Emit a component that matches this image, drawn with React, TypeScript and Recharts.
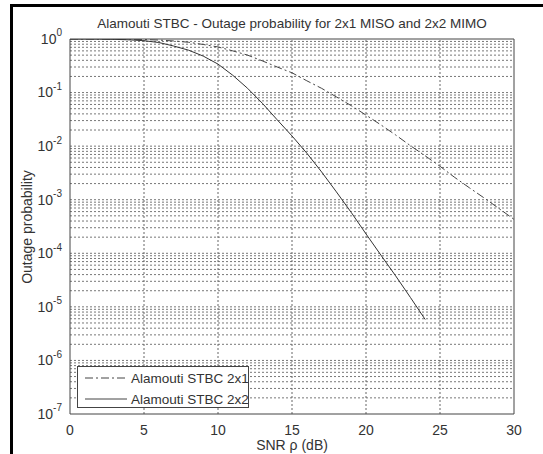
import { LineChart, Line, XAxis, YAxis, ReferenceLine, Legend } from "recharts";

const snrDb = [0, 1, 2, 3, 4, 5, 6, 7, 8, 9, 10, 11, 12, 13, 14, 15, 16, 17, 18, 19, 20, 21, 22, 23, 24, 25, 26, 27, 28, 29, 30];

// Alamouti 2x1 MISO (dash-dot)
const miso2x1 = [
  0.998, 0.997, 0.995, 0.992, 0.988, 0.978, 0.955, 0.92, 0.87, 0.79, 0.71, 0.6, 0.5, 0.39, 0.3, 0.234,
  0.166, 0.12, 0.083, 0.057, 0.038, 0.025, 0.0162, 0.0102, 0.0066, 0.0042, 0.0026, 0.00166, 0.00107,
  0.00068, 0.00043,
];

// Alamouti 2x2 MIMO (solid), stops at 24 dB
const mimo2x2 = [
  0.999, 0.998, 0.995, 0.985, 0.965, 0.93, 0.86, 0.74, 0.62, 0.48, 0.34, 0.21, 0.12, 0.063, 0.031, 0.0155,
  0.0074, 0.0033, 0.0014, 0.00058, 0.00023, 0.000093, 0.000038, 0.000015, 0.0000058,
];

const xTicks = [0, 5, 10, 15, 20, 25, 30];
const yTicks = [1e-7, 1e-6, 1e-5, 1e-4, 1e-3, 1e-2, 1e-1, 1];
const minorSteps = [1, 2, 3, 4, 5, 6, 7, 8, 9];

const data = snrDb.map((snr, i) => ({
  snr,
  miso: miso2x1[i],
  mimo: i < mimo2x2.length ? mimo2x2[i] : undefined,
}));

// dotted log grid: every m*10^k inside the box (edges are drawn separately)
const hGrid = yTicks
  .slice(0, -1)
  .flatMap((d) => minorSteps.map((m) => m * d))
  .filter((v) => v > 1e-7);
const vGrid = [5, 10, 15, 20, 25];

const FONT = "'Liberation Sans', Arial, sans-serif";
const TXT = "#333";
const GRID = "#777";
const BOX = "#444";

const LogTick = (props: any) => {
  const { x, y, payload } = props;
  const exp = Math.round(Math.log10(payload.value));
  return (
    <text x={x} y={y} textAnchor="end" fill={TXT} fontSize={14} fontFamily={FONT}>
      <tspan dy="0.35em">10</tspan>
      <tspan dy="-0.75em" fontSize={10}>{exp}</tspan>
    </text>
  );
};

const LegendBox = () => (
  <div
    style={{
      width: 172,
      height: 42,
      border: "1px solid #444",
      background: "#fff",
      boxSizing: "border-box",
    }}
  >
    <svg width={170} height={40} style={{ display: "block" }}>
      <line x1={7} x2={49} y1={11} y2={11} stroke="#444" strokeDasharray="8 3 2 3" />
      <text x={53} y={11} dy="0.35em" fill={TXT} fontSize={13.5} fontFamily={FONT}>Alamouti STBC 2x1</text>
      <line x1={7} x2={49} y1={32} y2={32} stroke="#444" />
      <text x={53} y={32} dy="0.35em" fill={TXT} fontSize={13.5} fontFamily={FONT}>Alamouti STBC 2x2</text>
    </svg>
  </div>
);

export default function App() {
  return (
    <div style={{ position: "absolute", left: 0, top: 0, width: 543, height: 454, background: "#fff", overflow: "hidden" }}>
      <div
        style={{
          position: "absolute",
          left: 10,
          top: 4,
          width: 560,
          height: 480,
          borderLeft: "3px solid #000",
          borderTop: "3px solid #000",
        }}
      />
      <div style={{ position: "absolute", left: 0, top: 16, width: 584, textAlign: "center", fontFamily: FONT, fontSize: 13.5, color: TXT }}>
        Alamouti STBC - Outage probability for 2x1 MISO and 2x2 MIMO
      </div>
      <div style={{ position: "absolute", left: 70, top: 437, width: 444, textAlign: "center", fontFamily: FONT, fontSize: 14, color: TXT }}>
        SNR ρ (dB)
      </div>
      <div
        style={{
          position: "absolute",
          left: 27,
          top: 227,
          transform: "translate(-50%, -50%) rotate(-90deg)",
          whiteSpace: "nowrap",
          fontFamily: FONT,
          fontSize: 14,
          color: TXT,
        }}
      >
        Outage probability
      </div>
      <LineChart
        width={543}
        height={454}
        data={data}
        margin={{ top: 39, right: 29, bottom: 10, left: 8 }}
        style={{ position: "absolute", left: 0, top: 0 }}
      >
        <XAxis
          dataKey="snr"
          type="number"
          domain={[0, 30]}
          ticks={xTicks}
          height={30}
          tickLine={false}
          tickSize={0}
          tickMargin={11}
          stroke={BOX}
          tick={{ fill: TXT, fontSize: 14, fontFamily: FONT }}
        />
        <YAxis
          type="number"
          scale="log"
          domain={[1e-7, 1]}
          ticks={yTicks}
          allowDataOverflow
          width={62}
          tickLine={false}
          tickSize={0}
          tickMargin={8}
          stroke={BOX}
          tick={<LogTick />}
        />
        {hGrid.map((v) => (
          <ReferenceLine key={"h" + v} y={v} stroke={GRID} strokeDasharray="2 2" />
        ))}
        {vGrid.map((v) => (
          <ReferenceLine key={"v" + v} x={v} xAxisId={0} stroke="#666" strokeDasharray="2 2" />
        ))}
        <ReferenceLine y={1} stroke={BOX} ifOverflow="visible" />
        <ReferenceLine x={30} xAxisId={0} stroke={BOX} ifOverflow="visible" />
        <Line
          dataKey="miso"
          stroke="#444"
          strokeWidth={1}
          strokeDasharray="8 3 2 3"
          dot={false}
          isAnimationActive={false}
          type="linear"
        />
        <Line
          dataKey="mimo"
          stroke="#333"
          strokeWidth={1}
          dot={false}
          isAnimationActive={false}
          type="linear"
        />
        <Legend
          layout="vertical"
          align="center"
          verticalAlign="middle"
          content={<LegendBox />}
          wrapperStyle={{ position: "absolute", left: 77, top: 366, width: 172, height: 42 }}
        />
      </LineChart>
    </div>
  );
}
